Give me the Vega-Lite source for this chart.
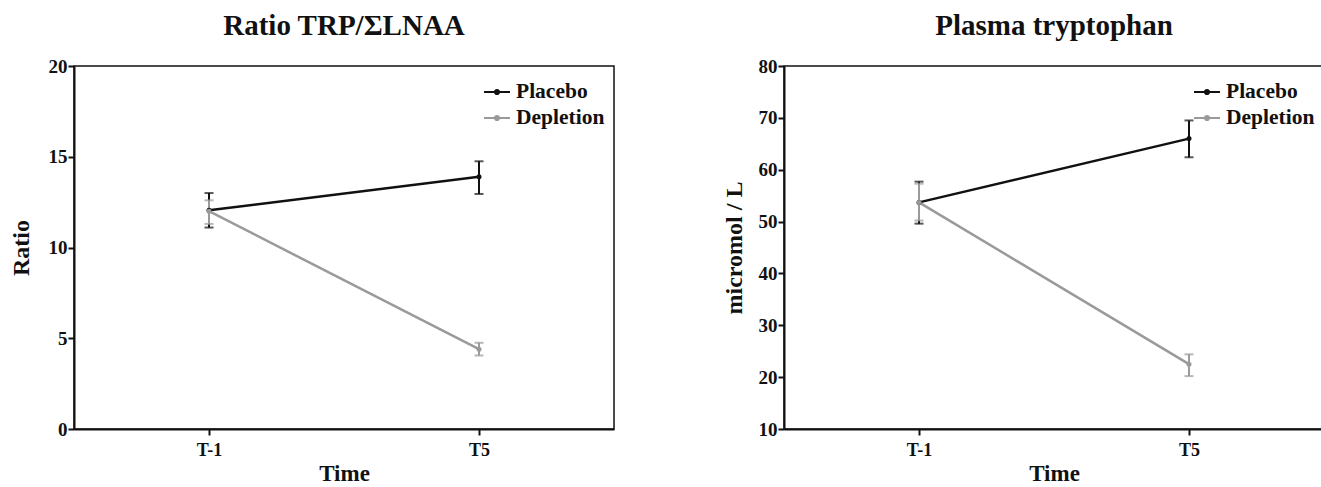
{
  "$schema": "https://vega.github.io/schema/vega-lite/v6.json",
  "padding": {"left": 8, "top": 11, "right": 0, "bottom": 0},
  "background": "white",
  "datasets": {
    "ratio": [
      {"group": "Placebo", "time": "T-1", "mean": 12.05, "low": 11.1, "high": 13.0},
      {"group": "Placebo", "time": "T5", "mean": 13.9, "low": 12.95, "high": 14.75},
      {"group": "Depletion", "time": "T-1", "mean": 12.0, "low": 11.3, "high": 12.6},
      {"group": "Depletion", "time": "T5", "mean": 4.4, "low": 4.05, "high": 4.75}
    ],
    "trp": [
      {"group": "Placebo", "time": "T-1", "mean": 53.7, "low": 49.6, "high": 57.7},
      {"group": "Placebo", "time": "T5", "mean": 66.0, "low": 62.4, "high": 69.5},
      {"group": "Depletion", "time": "T-1", "mean": 53.7, "low": 50.2, "high": 57.3},
      {"group": "Depletion", "time": "T5", "mean": 22.5, "low": 20.2, "high": 24.4}
    ]
  },
  "config": {
    "font": "Liberation Serif",
    "view": {"stroke": "#111111", "strokeWidth": 1.5},
    "axis": {
      "labelFont": "Liberation Serif", "labelFontWeight": "bold", "labelFontSize": 19, "labelColor": "#111111",
      "titleFont": "Liberation Serif", "titleFontWeight": "bold", "titleFontSize": 24, "titleColor": "#111111",
      "domainColor": "#111111", "domainWidth": 2, "tickColor": "#111111", "tickWidth": 2, "tickSize": 6,
      "grid": false
    },
    "axisY": {"labelPadding": 1},
    "axisX": {"labelPadding": 6, "titlePadding": 3, "labelAngle": 0, "titleFontSize": 23, "labelFontSize": 18},
    "title": {"font": "Liberation Serif", "fontSize": 29, "fontWeight": "bold", "color": "#111111", "anchor": "middle", "offset": 16},
    "legend": {
      "orient": "none", "legendX": 409, "legendY": 12, "padding": 0,
      "symbolType": "M-1,0H1M-0.16,0A0.16,0.16 0 1 1 0.16,0A0.16,0.16 0 1 1 -0.16,0",
      "symbolSize": 676, "symbolStrokeWidth": 2, "symbolOpacity": 1,
      "labelFont": "Liberation Serif", "labelFontWeight": "bold", "labelFontSize": 21.5, "labelColor": "#111111",
      "labelOffset": 5, "rowPadding": 1, "titleLimit": 0
    }
  },
  "spacing": 106,
  "resolve": {"scale": {"color": "independent"}, "legend": {"color": "independent"}},
  "hconcat": [
    {
      "title": "Ratio TRP/ΣLNAA",
      "width": 540, "height": 363,
      "data": {"name": "ratio"},
      "encoding": {
        "x": {"field": "time", "type": "ordinal", "sort": ["T-1", "T5"], "scale": {"type": "point", "padding": 0.5}, "title": "Time"},
        "color": {"field": "group", "type": "nominal", "scale": {"domain": ["Placebo", "Depletion"], "range": ["#111111", "#9a9a9a"]}, "legend": {"title": null}}
      },
      "layer": [
        {"mark": {"type": "rule", "strokeWidth": 2}, "encoding": {"y": {"field": "low", "type": "quantitative", "scale": {"domain": [0, 20]}, "title": "Ratio", "axis": {"values": [0, 5, 10, 15, 20], "titlePadding": 15}}, "y2": {"field": "high"}}},
        {"mark": {"type": "tick", "thickness": 2, "size": 9}, "encoding": {"y": {"field": "low", "type": "quantitative", "title": "Ratio", "axis": {"values": [0, 5, 10, 15, 20], "titlePadding": 15}}}},
        {"mark": {"type": "tick", "thickness": 2, "size": 9}, "encoding": {"y": {"field": "high", "type": "quantitative", "title": "Ratio", "axis": {"values": [0, 5, 10, 15, 20], "titlePadding": 15}}}},
        {"mark": {"type": "line", "strokeWidth": 2.5}, "encoding": {"y": {"field": "mean", "type": "quantitative", "title": "Ratio", "axis": {"values": [0, 5, 10, 15, 20], "titlePadding": 15}}}},
        {"mark": {"type": "point", "filled": true, "size": 25, "opacity": 1}, "encoding": {"y": {"field": "mean", "type": "quantitative", "title": "Ratio", "axis": {"values": [0, 5, 10, 15, 20], "titlePadding": 15}}}}
      ]
    },
    {
      "title": "Plasma tryptophan",
      "width": 540, "height": 363,
      "data": {"name": "trp"},
      "encoding": {
        "x": {"field": "time", "type": "ordinal", "sort": ["T-1", "T5"], "scale": {"type": "point", "padding": 0.5}, "title": "Time"},
        "color": {"field": "group", "type": "nominal", "scale": {"domain": ["Placebo", "Depletion"], "range": ["#111111", "#9a9a9a"]}, "legend": {"title": null}}
      },
      "layer": [
        {"mark": {"type": "rule", "strokeWidth": 2}, "encoding": {"y": {"field": "low", "type": "quantitative", "scale": {"domain": [10, 80]}, "title": "micromol / L", "axis": {"values": [10, 20, 30, 40, 50, 60, 70, 80], "titlePadding": 12}}, "y2": {"field": "high"}}},
        {"mark": {"type": "tick", "thickness": 2, "size": 9}, "encoding": {"y": {"field": "low", "type": "quantitative", "title": "micromol / L", "axis": {"values": [10, 20, 30, 40, 50, 60, 70, 80], "titlePadding": 12}}}},
        {"mark": {"type": "tick", "thickness": 2, "size": 9}, "encoding": {"y": {"field": "high", "type": "quantitative", "title": "micromol / L", "axis": {"values": [10, 20, 30, 40, 50, 60, 70, 80], "titlePadding": 12}}}},
        {"mark": {"type": "line", "strokeWidth": 2.5}, "encoding": {"y": {"field": "mean", "type": "quantitative", "title": "micromol / L", "axis": {"values": [10, 20, 30, 40, 50, 60, 70, 80], "titlePadding": 12}}}},
        {"mark": {"type": "point", "filled": true, "size": 25, "opacity": 1}, "encoding": {"y": {"field": "mean", "type": "quantitative", "title": "micromol / L", "axis": {"values": [10, 20, 30, 40, 50, 60, 70, 80], "titlePadding": 12}}}}
      ]
    }
  ]
}
